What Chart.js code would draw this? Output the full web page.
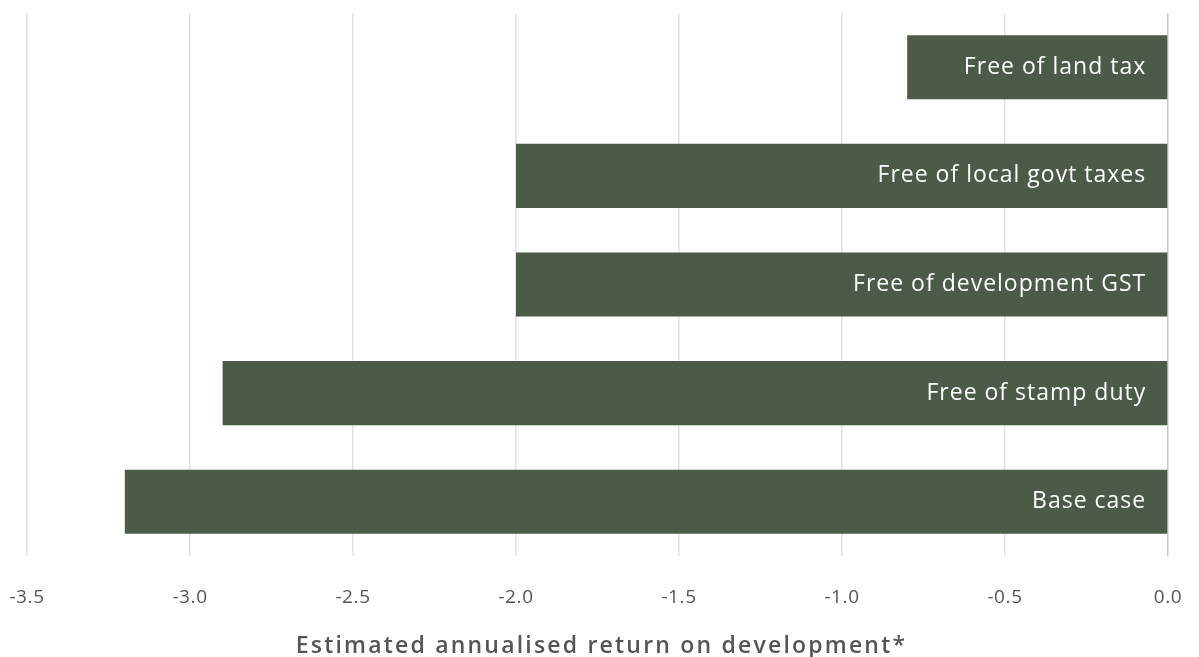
<!DOCTYPE html>
<html lang="en">
<head>
<meta charset="UTF-8">
<title>Estimated annualised return on development</title>
<script src="https://cdn.jsdelivr.net/npm/chart.js"></script>
<style>
  html, body { margin: 0; padding: 0; background: #fff; }
  #wrap { width: 1199px; height: 657px; }
</style>
</head>
<body>
<div id="wrap"><canvas id="myChart" width="1199" height="657"></canvas></div>
<script>
// data
const scenarios = ['Free of land tax', 'Free of local govt taxes', 'Free of development GST', 'Free of stamp duty', 'Base case'];
const returns = [-0.8, -2.0, -2.0, -2.9, -3.2];
const axisTitle = 'Estimated annualised return on development*';

const barGreen = '#4b5b47';
const textGrey = '#555555';

// bar names, tick labels and axis title drawn by hand
// (chart.js adds tick padding to the side margins, and we want letter spacing)
const textLayer = {
    id: 'textLayer',
    afterDatasetsDraw(chart) {
        const ctx = chart.ctx;
        const meta = chart.getDatasetMeta(0);
        ctx.save();
        ctx.font = '23px "Open Sans", sans-serif';
        ctx.letterSpacing = '1px';
        ctx.fillStyle = '#ffffff';
        ctx.textAlign = 'right';
        ctx.textBaseline = 'middle';
        meta.data.forEach((bar, i) => {
            const right = Math.max(bar.x, bar.base);
            ctx.fillText(chart.data.labels[i], right - 21, bar.y);
        });
        ctx.restore();
    },
    afterDraw(chart) {
        const ctx = chart.ctx;
        const area = chart.chartArea;
        const x = chart.scales.x;
        ctx.save();
        ctx.fillStyle = textGrey;
        ctx.textAlign = 'center';
        ctx.textBaseline = 'middle';

        ctx.font = '19px "Open Sans", sans-serif';
        ctx.letterSpacing = '0.6px';
        x.ticks.forEach((t) => {
            ctx.fillText(t.value.toFixed(1), x.getPixelForValue(t.value), area.bottom + 42);
        });

        ctx.font = '600 23px "Open Sans", sans-serif';
        ctx.letterSpacing = '2.2px';
        ctx.fillText(axisTitle, (area.left + area.right) / 2 + 4, area.bottom + 90);
        ctx.restore();
    }
};

new Chart(document.getElementById('myChart').getContext('2d'), {
    type: 'bar',
    data: {
        labels: scenarios,
        datasets: [{
            data: returns,
            backgroundColor: barGreen,
            borderWidth: 0,
            categoryPercentage: 1,
            barPercentage: 0.59
        }]
    },
    options: {
        indexAxis: 'y',
        responsive: false,
        animation: false,
        layout: { padding: { left: 27, right: 31, top: 13, bottom: 101 } },
        plugins: {
            legend: { display: false },
            tooltip: { enabled: false }
        },
        scales: {
            x: {
                min: -3.5,
                max: 0,
                border: { display: false },
                grid: {
                    drawTicks: false,
                    lineWidth: 1.5,
                    color: (c) => (c.tick && c.tick.value === 0) ? '#c8c8c8' : '#e2e2e2'
                },
                ticks: { stepSize: 0.5, display: false },
                title: { display: false }
            },
            y: { display: false }
        }
    },
    plugins: [textLayer]
});
</script>
</body>
</html>
